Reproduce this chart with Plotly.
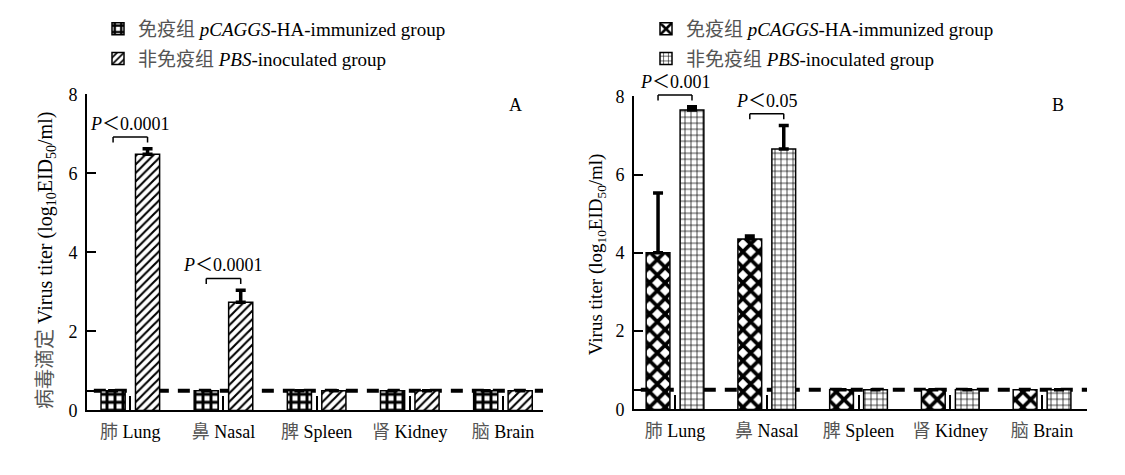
import plotly.graph_objects as go

# ---------------- data ----------------
cat_cn = ["肺", "鼻", "脾", "肾", "脑"]
cat_en = ["Lung", "Nasal", "Spleen", "Kidney", "Brain"]

a_immunized = [0.5, 0.5, 0.5, 0.5, 0.5]
a_immunized_err = [None, None, None, None, None]
a_pbs = [6.48, 2.74, 0.5, 0.5, 0.5]
a_pbs_err = [0.14, 0.3, None, None, None]

b_immunized = [4.0, 4.35, 0.5, 0.5, 0.5]
b_immunized_err = [1.53, 0.08, None, None, None]
b_pbs = [7.65, 6.65, 0.5, 0.5, 0.5]
b_pbs_err = [0.08, 0.6, None, None, None]

a_pvalues = ["<i>P</i>＜0.0001", "<i>P</i>＜0.0001", None, None, None]
b_pvalues = ["<i>P</i>＜0.001", "<i>P</i>＜0.05", None, None, None]

detection_limit = 0.5
y_max = 8
y_ticks = [0, 0.5, 2, 4, 6, 8]
y_tick_labels = ["0", "", "2", "4", "6", "8"]

name_immunized = '<span style="color:#555">免疫组</span> <i>pCAGGS</i>-HA-immunized group'
name_pbs = '<span style="color:#555">非免疫组</span> <i>PBS</i>-inoculated group'
title_a = '<span style="color:#555">病毒滴定</span> Virus titer (log<sub>10</sub>EID<sub>50</sub>/ml)'
title_b = 'Virus titer (log<sub>10</sub>EID<sub>50</sub>/ml)'

tick_text = ['<span style="color:#555">%s</span> %s' % (c, e) for c, e in zip(cat_cn, cat_en)]
idx = list(range(len(cat_en)))

# ---------------- style ----------------
W, H = 1125, 475
FONT = "Liberation Serif, Noto Sans CJK SC, serif"
FS = 18
BARGAP = 0.26
BARGROUPGAP = 0.3
half = (1 - BARGAP) / 4  # offset of each bar center from category center

panels = [
    dict(xa="x", ya="y", xref="x", yref="y", legend="legend",
         imm=a_immunized, imm_err=a_immunized_err, pbs=a_pbs, pbs_err=a_pbs_err,
         imm_pat=dict(shape="+", fgcolor="black", bgcolor="white", size=8, solidity=0.6),
         pbs_pat=dict(shape="/", fgcolor="black", bgcolor="white", size=6, solidity=0.35),
         pvals=a_pvalues),
    dict(xa="x2", ya="y2", xref="x2", yref="y2", legend="legend2",
         imm=b_immunized, imm_err=b_immunized_err, pbs=b_pbs, pbs_err=b_pbs_err,
         imm_pat=dict(shape="x", fgcolor="black", bgcolor="white", size=11, solidity=0.55),
         pbs_pat=dict(shape="+", fgcolor="black", bgcolor="white", size=6, solidity=0.22),
         pvals=b_pvalues),
]

fig = go.Figure()
shapes = []
annotations = []

for k, p in enumerate(panels):
    for j, (vals, errs, pat, nm) in enumerate([
        (p["imm"], p["imm_err"], p["imm_pat"], name_immunized),
        (p["pbs"], p["pbs_err"], p["pbs_pat"], name_pbs),
    ]):
        fig.add_trace(go.Bar(
            x=idx, y=vals, name=nm, xaxis=p["xa"], yaxis=p["ya"],
            legend=p["legend"], legendgroup="g%d%d" % (k, j),
            marker=dict(color="white", pattern=dict(fillmode="replace", **pat),
                        line=dict(color="black", width=1.5)),
            error_y=dict(type="data", array=errs, arrayminus=[0] * len(vals),
                         symmetric=False, color="black", thickness=3.5, width=5),
            hoverinfo="skip",
        ))
    # detection limit dashed line
    shapes.append(dict(type="line", xref=p["xref"] + " domain", yref=p["yref"],
                       x0=0.015, x1=1, y0=detection_limit, y1=detection_limit,
                       line=dict(color="black", width=4, dash="12px,9px"), layer="below"))
    # significance brackets
    for i, pv in enumerate(p["pvals"]):
        if pv is None:
            continue
        top = max(p["imm"][i] + (p["imm_err"][i] or 0), p["pbs"][i] + (p["pbs_err"][i] or 0))
        yb = (top + 0.3) / y_max
        drop = 0.14 / y_max
        x0, x1 = i - half, i + half
        ln = dict(color="black", width=1.5)
        yd = p["yref"] + " domain"
        shapes.append(dict(type="line", xref=p["xref"], yref=yd, x0=x0, x1=x1, y0=yb, y1=yb, line=ln))
        shapes.append(dict(type="line", xref=p["xref"], yref=yd, x0=x0, x1=x0, y0=yb, y1=yb - drop, line=ln))
        shapes.append(dict(type="line", xref=p["xref"], yref=yd, x0=x1, x1=x1, y0=yb, y1=yb - drop, line=ln))
        annotations.append(dict(text=pv, xref=p["xref"], yref=yd, x=i, y=yb,
                                yanchor="bottom", yshift=1, showarrow=False,
                                font=dict(family=FONT, size=FS, color="black")))

# panel letters and y titles
annotations += [
    dict(text="A", xref="paper", yref="paper", x=515 / W, y=1 - 99 / H, showarrow=False,
         xanchor="center", yanchor="middle", font=dict(family=FONT, size=FS, color="black")),
    dict(text="B", xref="paper", yref="paper", x=1058 / W, y=1 - 99 / H, showarrow=False,
         xanchor="center", yanchor="middle", font=dict(family=FONT, size=FS, color="black")),
    dict(text=title_a, xref="paper", yref="paper", x=47 / W, y=1 - 262 / H, textangle=-90,
         xanchor="center", yanchor="middle", showarrow=False,
         font=dict(family=FONT, size=20, color="black")),
    dict(text=title_b, xref="paper", yref="paper", x=597 / W, y=1 - 255 / H, textangle=-90,
         xanchor="center", yanchor="middle", showarrow=False,
         font=dict(family=FONT, size=19, color="black")),
]

xaxis_common = dict(tickmode="array", tickvals=idx, ticktext=tick_text, showline=True,
                    linecolor="black", linewidth=2, ticks="inside", ticklen=14, tickwidth=1.5,
                    tickcolor="black", showgrid=False, zeroline=False, ticklabelstandoff=4,
                    tickfont=dict(family=FONT, size=FS, color="black"))
yaxis_common = dict(range=[0, y_max], tickmode="array", tickvals=y_ticks, ticktext=y_tick_labels,
                    showline=True, linecolor="black", linewidth=2, ticks="inside", ticklen=9,
                    tickwidth=2, tickcolor="black", showgrid=False, zeroline=False,
                    ticklabelstandoff=4,
                    tickfont=dict(family=FONT, size=FS, color="black"))

legend_common = dict(font=dict(family=FONT, size=19, color="black"), bgcolor="rgba(0,0,0,0)",
                     xanchor="left", yanchor="top", tracegroupgap=2, orientation="v")

fig.update_layout(
    width=W, height=H, margin=dict(l=0, r=0, t=0, b=0),
    paper_bgcolor="white", plot_bgcolor="white",
    barmode="group", bargap=BARGAP, bargroupgap=BARGROUPGAP,
    font=dict(family=FONT, size=FS, color="black"),
    xaxis=dict(domain=[87 / W, 543 / W], range=[-0.465, 4.43], anchor="y", **xaxis_common),
    yaxis=dict(domain=[(H - 418) / H, (H - 88) / H], anchor="x", **yaxis_common),
    xaxis2=dict(domain=[634 / W, 1087 / W], range=[-0.447, 4.49], anchor="y2", **xaxis_common),
    yaxis2=dict(domain=[(H - 417) / H, (H - 90) / H], anchor="x2", **yaxis_common),
    legend=dict(x=98 / W, y=1.0, **legend_common),
    legend2=dict(x=646 / W, y=1.0, **legend_common),
    shapes=shapes, annotations=annotations,
    showlegend=True,
)

fig.write_html("out.html", config={"displayModeBar": False},
               post_script="document.body.style.margin='0px';")
